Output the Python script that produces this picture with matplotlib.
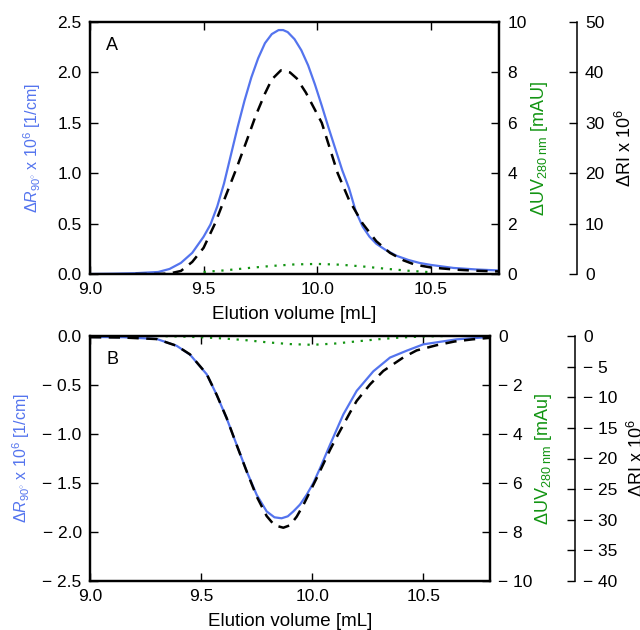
import matplotlib
matplotlib.use("Agg")
import matplotlib.pyplot as plt
from matplotlib.ticker import FuncFormatter, MultipleLocator

plt.rcParams['font.family'] = ['Liberation Sans', 'DejaVu Sans']
plt.rcParams['font.size'] = 12
plt.rcParams['mathtext.fontset'] = 'custom'
plt.rcParams['mathtext.rm'] = 'Liberation Sans'
plt.rcParams['mathtext.it'] = 'Liberation Sans:italic'

BLUE = '#5474ee'
GREEN = '#129412'

# ---- panel A ----
a_ls_x = [9.00, 9.10, 9.20, 9.30, 9.35, 9.40, 9.45, 9.50, 9.53, 9.56, 9.59, 9.62, 9.65,
          9.68, 9.71, 9.74, 9.77, 9.80, 9.83, 9.85, 9.87, 9.90, 9.93, 9.96, 9.99,
          10.02, 10.05, 10.08, 10.11, 10.14, 10.17, 10.20, 10.23, 10.26, 10.30, 10.35,
          10.40, 10.45, 10.50, 10.60, 10.70, 10.80]
a_ls_y = [0.0, 0.003, 0.008, 0.02, 0.05, 0.11, 0.21, 0.37, 0.49, 0.67, 0.90, 1.18, 1.46,
          1.72, 1.95, 2.14, 2.29, 2.38, 2.42, 2.42, 2.40, 2.33, 2.22, 2.07, 1.88,
          1.67, 1.45, 1.24, 1.03, 0.85, 0.62, 0.47, 0.37, 0.30, 0.24, 0.18,
          0.14, 0.11, 0.09, 0.06, 0.045, 0.035]

a_ri_x = [9.20, 9.30, 9.35, 9.40, 9.45, 9.50, 9.55, 9.60, 9.645, 9.69, 9.73, 9.77, 9.80,
          9.84, 9.88, 9.91, 9.95, 9.985, 10.02, 10.055, 10.09, 10.14, 10.20, 10.26, 10.32,
          10.38, 10.43, 10.50, 10.61, 10.70, 10.80]
a_ri_y = [0.0, 0.0, 0.1, 0.6, 2.4, 5.2, 10.0, 15.8, 21.0, 26.5, 31.5, 35.8, 38.6,
          40.4, 40.0, 38.8, 36.0, 33.0, 30.0, 25.0, 20.0, 14.7, 10.0, 6.5, 4.2,
          2.7, 1.85, 1.3, 0.86, 0.65, 0.5]

a_uv_x = [9.50, 9.60, 9.70, 9.80, 9.90, 10.00, 10.10, 10.20, 10.30, 10.40, 10.50]
a_uv_y = [0.08, 0.15, 0.24, 0.32, 0.38, 0.40, 0.37, 0.30, 0.21, 0.13, 0.07]

# ---- panel B ----
b_ls_x = [9.00, 9.15, 9.30, 9.39, 9.45, 9.525, 9.57, 9.615, 9.66, 9.705, 9.75, 9.795,
          9.83, 9.862, 9.89, 9.915, 9.945, 9.975, 10.005, 10.035, 10.08, 10.14, 10.20,
          10.275, 10.35, 10.425, 10.50, 10.65, 10.80]
b_ls_y = [-0.01, -0.012, -0.03, -0.10, -0.19, -0.39, -0.60, -0.84, -1.11, -1.38, -1.62, -1.79,
          -1.85, -1.86, -1.84, -1.79, -1.72, -1.62, -1.50, -1.35, -1.11, -0.80, -0.56,
          -0.36, -0.22, -0.15, -0.085, -0.034, -0.01]

b_ri_x = [9.00, 9.15, 9.30, 9.39, 9.45, 9.525, 9.57, 9.615, 9.66, 9.705, 9.75, 9.795,
          9.83, 9.87, 9.90, 9.93, 9.96, 9.99, 10.02, 10.05, 10.08, 10.11, 10.14, 10.17,
          10.20, 10.26, 10.32, 10.41, 10.47, 10.56, 10.64, 10.72, 10.80]
b_ri_y = [-0.2, -0.25, -0.5, -1.6, -3.0, -6.2, -9.6, -13.4, -17.8, -22.1, -26.2, -29.4,
          -30.9, -31.3, -30.9, -29.5, -27.6, -25.4, -23.2, -20.9, -18.6, -16.5, -14.5, -12.5,
          -10.6, -7.9, -5.7, -3.5, -2.35, -1.5, -0.9, -0.55, -0.3]

b_uv_x = [9.30, 9.40, 9.50, 9.60, 9.70, 9.80, 9.90, 10.00, 10.10, 10.20, 10.30, 10.40, 10.50, 10.60]
b_uv_y = [0.0, -0.02, -0.05, -0.10, -0.17, -0.26, -0.33, -0.36, -0.31, -0.22, -0.13, -0.06, -0.02, 0.0]


def minus_fmt(fmt):
    def f(v, pos):
        if abs(v) < 1e-9:
            return fmt % 0
        if v < 0:
            return '\u2212 ' + fmt % (-v)
        return fmt % v
    return FuncFormatter(f)


def style(ax):
    for s in ax.spines.values():
        s.set_linewidth(1.6)
    ax.tick_params(direction='in', length=6, width=1, pad=6, labelsize=12.5)


def panel(rect, letter, ls, ri, uv, ylims, off, lab_x, uv_unit):
    ax = fig.add_axes(rect)
    ax2 = ax.twinx()
    ax3 = ax.twinx()
    style(ax)
    style(ax2)
    style(ax3)
    ax.tick_params(top=True, right=False)
    ax3.patch.set_visible(False)
    for s in ax3.spines.values():
        s.set_visible(False)
    ax3.spines['right'].set_visible(True)
    ax3.spines['right'].set_position(('axes', off))
    ax3.spines['right'].set_linewidth(1.1)

    ax.plot(ls[0], ls[1], color=BLUE, lw=1.6)
    ax2.plot(uv[0], uv[1], color=GREEN, lw=1.6, linestyle=(0, (1, 3)))
    ax3.plot(ri[0], ri[1], color='black', lw=1.8, linestyle=(0, (4.5, 3)))

    ax.set_xlim(9.0, 10.8)
    ax.xaxis.set_major_locator(MultipleLocator(0.5))
    ax.xaxis.set_major_formatter(FuncFormatter(lambda v, p: '%.1f' % v))
    ax.set_ylim(*ylims[0])
    ax.yaxis.set_major_locator(MultipleLocator(0.5))
    ax.yaxis.set_major_formatter(minus_fmt('%.1f'))
    ax2.set_ylim(*ylims[1])
    ax2.yaxis.set_major_locator(MultipleLocator(2))
    ax2.yaxis.set_major_formatter(minus_fmt('%d'))
    ax3.set_ylim(*ylims[2])
    ax3.yaxis.set_major_locator(MultipleLocator(ylims[3]))
    ax3.yaxis.set_major_formatter(minus_fmt('%d'))

    ax.set_xlabel('Elution volume [mL]', fontsize=13.5, labelpad=6)
    ax.set_ylabel(r'$\mathit{\Delta}R_{90^{\circ}}$ x 10$^6$ [1/cm]', color=BLUE, fontsize=11.5)
    ax2.set_ylabel(r'$\Delta$UV$_{280\ \mathrm{nm}}$ [' + uv_unit + ']', color=GREEN, fontsize=13)
    ax3.set_ylabel(r'$\Delta$RI x 10$^6$', color='black', fontsize=13)
    ax.yaxis.set_label_coords(lab_x[0], 0.5)
    ax2.yaxis.set_label_coords(lab_x[1], 0.5)
    ax3.yaxis.set_label_coords(lab_x[2], 0.5)

    ax.text(0.04, 0.905, letter, transform=ax.transAxes, fontsize=13, ha='left', va='center')
    return ax


fig = plt.figure(figsize=(6.4, 6.3), dpi=100)

panel([90 / 640, 356 / 630, 409 / 640, 252 / 630], 'A',
      (a_ls_x, a_ls_y), (a_ri_x, a_ri_y), (a_uv_x, a_uv_y),
      [(0, 2.5), (0, 10), (0, 50), 10], 1.19, (-0.115, 1.073, 1.284), 'mAU')

panel([90 / 640, 49 / 630, 400 / 640, 245 / 630], 'B',
      (b_ls_x, b_ls_y), (b_ri_x, b_ri_y), (b_uv_x, b_uv_y),
      [(-2.5, 0), (-10, 0), (-40, 0), 5], 1.2125, (-0.145, 1.1075, 1.3425), 'mAu')

fig.savefig('out.png', dpi=100)
